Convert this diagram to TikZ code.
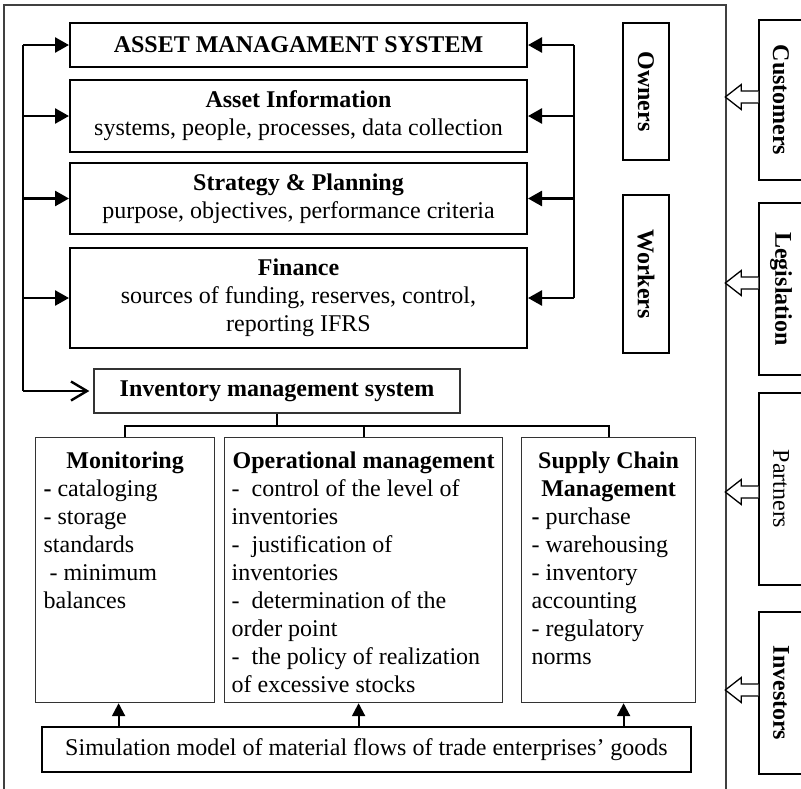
\documentclass[tikz,border=0pt]{standalone}
\usepackage{fontspec}
\setmainfont{Liberation Serif}
\usetikzlibrary{arrows.meta,calc}

\begin{document}
\begin{tikzpicture}
    [ x=1pt, y=-1pt,
        every node/.style={font=\fontsize{24}{28}\selectfont, inner sep=0pt},
        topbox/.style={draw, line width=2pt, align=center},
        sidebox/.style={draw, line width=2pt, rotate=-90, font=\fontsize{24}{28}\selectfont\bfseries},
        outbox/.style={draw, line width=1.4pt, rotate=-90},
        lowbox/.style={draw=black!80, line width=1.2pt, anchor=north west, inner xsep=8pt, inner ysep=14pt},
        link/.style={line width=2.6pt, -{Triangle[length=14pt,width=15pt]}},
        openlink/.style={line width=2.4pt, -{Straight Barb[length=16pt,width=19pt]}, shorten >=4pt},
        uplink/.style={line width=2.2pt, -{Triangle[length=13pt,width=13pt]}},
        tree/.style={line width=2pt},
        blockarrow/.style={line width=1.3pt, fill=white},
    ]

    \useasboundingbox (0,0) rectangle (801,788);

    \draw[line width=1.4pt, black!75] (4,800) -- (4,5) -- (726,5) -- (726,800);

    \node
        [ topbox,
            minimum width=457pt,
            minimum height=44pt,
        ] (AMS) at (298.5,45) {\textbf{ASSET MANAGAMENT SYSTEM}};

    \node
        [ topbox,
            minimum width=457pt,
            minimum height=72pt,
        ] (AI) at (298.5,116) {\textbf{Asset Information}\\systems, people, processes, data collection};

    \node
        [ topbox,
            minimum width=457pt,
            minimum height=71pt,
        ] (SP) at (298.5,198.5) {\textbf{Strategy \& Planning}\\purpose, objectives, performance criteria};

    \node
        [ topbox,
            minimum width=457pt,
            minimum height=100pt,
        ] (FIN) at (298.5,298) {\textbf{Finance}\\sources of funding, reserves, control,\\reporting IFRS};

    \node
        [ sidebox,
            minimum width=137pt,
            minimum height=46pt,
        ] (OWN) at (646,91.5) {Owners};

    \node
        [ sidebox,
            minimum width=158pt,
            minimum height=46pt,
        ] (WRK) at (646,274) {Workers};

    \node
        [ draw=black!80,
            line width=1.3pt,
            minimum width=366pt,
            minimum height=44pt,
        ] (INV) at (277,391) {\textbf{Inventory management system}};

    \node
        [ lowbox,
            minimum width=179pt,
            minimum height=265pt,
        ] (MON) at (35,437) {\parbox[c][237pt][t]{163pt}{{\centering\textbf{Monitoring}\par}
            \textbf{-} cataloging\\
            - storage\\
            standards\\
            \hspace*{6pt}- minimum\\
            balances}};

    \node
        [ lowbox,
            inner xsep=7pt,
            minimum width=278pt,
            minimum height=265pt,
        ] (OPM) at (224,437) {\parbox[c][237pt][t]{264pt}{{\centering\textbf{Operational management}\par}
            -~ control of the level of\\
            inventories\\
            -~ justification of\\
            inventories\\
            -~ determination of the\\
            order point\\
            -~ the policy of realization\\
            of excessive stocks}};

    \node
        [ lowbox,
            inner xsep=10pt,
            minimum width=174pt,
            minimum height=265pt,
        ] (SCM) at (521,437) {\parbox[c][237pt][t]{154pt}{{\centering\textbf{Supply Chain}\\\textbf{Management}\par}
            \textbf{-} purchase\\
            - warehousing\\
            - inventory\\
            accounting\\
            - regulatory\\
            norms}};

    \node
        [ draw,
            line width=2pt,
            minimum width=649pt,
            minimum height=45pt,
        ] (SIM) at (366.5,749.5) {Simulation model of material flows of trade enterprises’ goods};

    \node
        [ outbox,
            minimum width=160pt,
            minimum height=44pt,
            font=\fontsize{24}{28}\selectfont\bfseries,
        ] (CUS) at (781,100) {Customers};

    \node
        [ outbox,
            minimum width=172pt,
            minimum height=44pt,
            font=\fontsize{24}{28}\selectfont\bfseries,
        ] (LEG) at (781,289) {Legislation};

    \node
        [ outbox,
            minimum width=192pt,
            minimum height=44pt,
        ] (PAR) at (781,489) {Partners};

    \node
        [ outbox,
            minimum width=162pt,
            minimum height=44pt,
            font=\fontsize{24}{28}\selectfont\bfseries,
        ] (INVS) at (781,693) {Investors};

    \coordinate (LT) at (23,45);
    \coordinate (LB) at (23,391);
    \coordinate (RT) at (574,45);
    \coordinate (RB) at (574,298);

    \draw[line width=2.6pt] (LT) -- (LB);
    \draw[line width=2.6pt] (RT) -- (RB);

    \foreach \n in {AMS,AI,SP,FIN}
    {
        \draw[link] (LT |- \n.west) -- (\n.west);
        \draw[link] (RT |- \n.east) -- (\n.east);
    }

    \draw[openlink] (LB) -- (INV.west);

    \draw[line width=1.6pt] ($(OWN.south)+(0,-4.5)$) -- ($(OWN.south)+(0,-4.5)$ -| RT);
    \draw[line width=1.6pt] ($(WRK.south)+(0,-12)$) -- ($(WRK.south)+(0,-12)$ -| RT);

    \coordinate (J) at ($(INV.south)+(0,12)$);
    \draw[tree] (INV.south) -- (J);
    \draw[tree] (MON.north) |- (J) -| (SCM.north);
    \draw[tree] (OPM.north) -- (OPM.north |- J);

    \foreach \n/\dx in {MON/-6.5,OPM/-5,SCM/15}
        \draw[uplink] ($(SIM.north -| \n.south)+(\dx,0)$) -- ($(\n.south)+(\dx,0)$);

    \foreach \n/\dy in {CUS/-3,LEG/-6,PAR/3,INVS/-3}
        \draw[blockarrow] ($(\n.south)+(0,\dy-6)$) -- ++(-17,0) -- ++(0,-6.5) -- ++(-16,12.5) -- ++(16,12.5) -- ++(0,-6.5) -- ++(17,0);

\end{tikzpicture}
\end{document}
